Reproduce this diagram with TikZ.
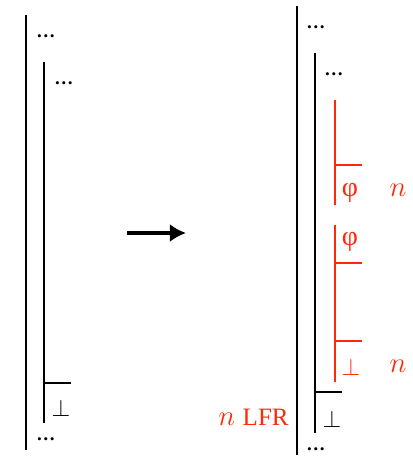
\documentclass[tikz,border=0pt]{standalone}
\usepackage{fontspec}
\setmainfont{Liberation Serif}
\usetikzlibrary{arrows.meta,positioning}
\definecolor{proofred}{RGB}{255,40,10}

\begin{document}
\begin{tikzpicture}[x=0.5pt,y=-0.5pt,
  bar/.style={line width=1pt},
  redbar/.style={line width=0.8pt,draw=proofred},
  lab/.style={font=\fontsize{13}{15}\selectfont,inner sep=0pt},
  dots/.style={font=\fontsize{9.5}{12}\bfseries,inner sep=0pt,anchor=west},
  redlab/.style={lab,text=proofred,font=\fontsize{14}{16}\selectfont},
  big/.style={font=\fontsize{15}{17}\selectfont,inner sep=0pt,text=proofred}
]
\useasboundingbox (0,0) rectangle (413,457);
% before
\coordinate (lo1) at (26,15);  \coordinate (lo2) at (26,450);
\coordinate (li1) at (44,62);  \coordinate (li2) at (44,423);
\coordinate (lt1) at (44,383); \coordinate (lt2) at (71,383);
\draw[bar] (lo1) -- (lo2);
\draw[bar] (li1) -- (li2);
\draw[bar] (lt1) -- (lt2);
\node[dots] (ldots1) at (36,36) {\dots};
\node[dots] (ldots2) at (54,83) {\dots};
\node[lab] (lbot) at (61,408) {$\bot$};
\node[dots] (ldots3) at (36,439) {\dots};
% arrow
\coordinate (a1) at (127,233); \coordinate (a2) at (186,233);
\draw[line width=1.6pt,-{Latex[length=8pt,width=9pt]}] (a1) -- (a2);
% after
\coordinate (ro1) at (297,6);   \coordinate (ro2) at (297,455);
\coordinate (ri1) at (315,53);  \coordinate (ri2) at (315,433);
\coordinate (rt1) at (315,392); \coordinate (rt2) at (342,392);
\draw[bar] (ro1) -- (ro2);
\draw[bar] (ri1) -- (ri2);
\draw[bar] (rt1) -- (rt2);
\node[dots] (rdots1) at (306,27) {\dots};
\node[dots] (rdots2) at (324,74) {\dots};
\node[lab] (rbot) at (332,419) {$\bot$};
\node[dots] (rdots3) at (306,449) {\dots};
% inserted red part
\coordinate (s1) at (335,100); \coordinate (s2) at (335,205);
\coordinate (s3) at (335,225); \coordinate (s4) at (335,382);
\coordinate (t1) at (335,165); \coordinate (t1e) at (362,165);
\coordinate (t2) at (335,263); \coordinate (t2e) at (362,263);
\coordinate (t3) at (335,341); \coordinate (t3e) at (362,341);
\draw[redbar] (s1) -- (s2);
\draw[redbar] (s3) -- (s4);
\draw[redbar] (t1) -- (t1e);
\draw[redbar] (t2) -- (t2e);
\draw[redbar] (t3) -- (t3e);
\node[redlab] (phi1) at (350,193) {φ};
\node[redlab] (phi2) at (350,242) {φ};
\node[lab,text=proofred] (rbot2) at (351,367) {$\bot$};
\node[big] (n1) at (398,190) {$n$};
\node[big] (n2) at (398,366) {$n$};
\node[big,anchor=east] (lfr) at (289,417) {$n$ \fontsize{12.5}{14}\selectfont LFR};
\end{tikzpicture}
\end{document}
